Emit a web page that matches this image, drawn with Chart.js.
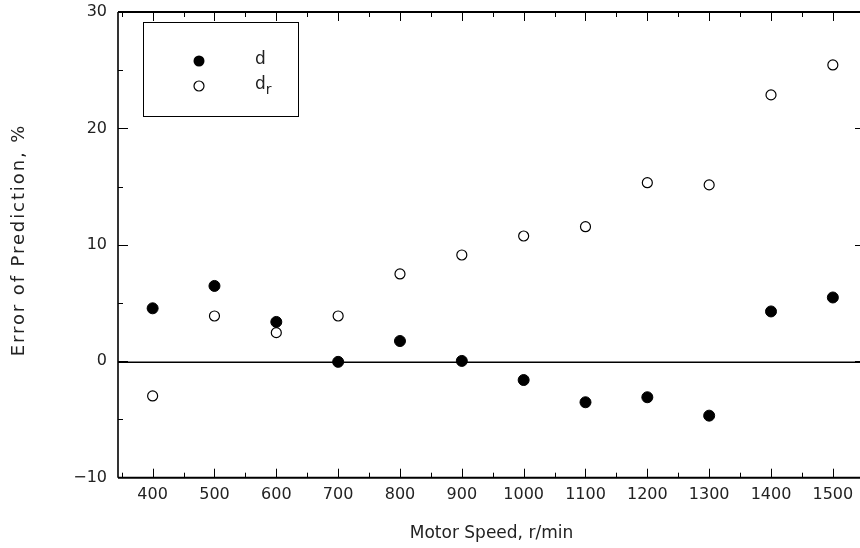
<!DOCTYPE html>
<html>
<head>
<meta charset="utf-8">
<script src="https://cdn.jsdelivr.net/npm/chart.js@4"></script>
<style>
html,body{margin:0;padding:0;background:#fff;overflow:hidden;width:860px;height:548px;}
#wrap{width:860px;height:548px;}
</style>
</head>
<body>
<div id="wrap"><canvas id="c" width="860" height="548"></canvas></div>
<script>
const speeds = [400, 500, 600, 700, 800, 900, 1000, 1100, 1200, 1300, 1400, 1500];
const dValues = [4.55, 6.47, 3.38, -0.05, 1.74, 0.03, -1.61, -3.52, -3.09, -4.67, 4.28, 5.48];
const drValues = [-2.98, 3.89, 2.46, 3.89, 7.5, 9.13, 10.76, 11.56, 15.34, 15.15, 22.88, 25.45];
const xTickValues = [400, 500, 600, 700, 800, 900, 1000, 1100, 1200, 1300, 1400, 1500];
const yTickValues = [-10, 0, 10, 20, 30];
const seriesNames = ['d', 'd', 'r'];
const xTitle = 'Motor Speed, r/min';
const yTitle = 'Error of Prediction, %';

const FONT = '"DejaVu Sans", sans-serif';
const TXT = '#222';
const PLOT_RIGHT = 865;

const framePlugin = {
  id: 'frame',
  afterLayout(chart) {
    const xs = chart.scales.x;
    xs.right = PLOT_RIGHT;
    xs.width = PLOT_RIGHT - xs.left;
    xs.configure();
    chart.chartArea.right = PLOT_RIGHT;
    chart.chartArea.width = PLOT_RIGHT - chart.chartArea.left;
  },
  afterDatasetsDraw(chart) {
    const ctx = chart.ctx, a = chart.chartArea;
    const xs = chart.scales.x, ys = chart.scales.y;
    ctx.save();
    ctx.strokeStyle = '#000';
    const y0 = ys.getPixelForValue(0);
    ctx.lineWidth = 1.4;
    ctx.beginPath(); ctx.moveTo(a.left, y0 + 1); ctx.lineTo(a.right, y0 + 1); ctx.stroke();
    ctx.lineWidth = 2;
    ctx.beginPath(); ctx.moveTo(a.left, a.top); ctx.lineTo(a.right, a.top); ctx.stroke();
    ctx.beginPath(); ctx.moveTo(a.left, a.bottom); ctx.lineTo(a.right, a.bottom); ctx.stroke();
    ctx.lineWidth = 1.6;
    ctx.beginPath(); ctx.moveTo(a.left, a.top); ctx.lineTo(a.left, a.bottom); ctx.stroke();
    ctx.lineWidth = 1;
    for (let v = 350; v <= 1550; v += 50) {
      const px = Math.round(xs.getPixelForValue(v)) + 0.5;
      if (px < a.left + 2 || px > a.right - 2) continue;
      const len = (v % 100 === 0) ? 9 : 5;
      ctx.beginPath(); ctx.moveTo(px, a.bottom); ctx.lineTo(px, a.bottom - len); ctx.stroke();
      ctx.beginPath(); ctx.moveTo(px, a.top); ctx.lineTo(px, a.top + len); ctx.stroke();
    }
    for (let v = -10; v <= 30; v += 5) {
      const py = Math.round(ys.getPixelForValue(v)) + 0.5;
      if (py < a.top + 2 || py > a.bottom - 2) continue;
      const len = (v % 10 === 0) ? 10 : 5;
      ctx.beginPath(); ctx.moveTo(a.left, py); ctx.lineTo(a.left + len, py); ctx.stroke();
      ctx.beginPath(); ctx.moveTo(a.right, py); ctx.lineTo(a.right - len, py); ctx.stroke();
    }
    // legend
    ctx.lineWidth = 1;
    ctx.strokeRect(143.5, 22.5, 155, 94);
    ctx.fillStyle = '#000';
    ctx.beginPath(); ctx.arc(199, 61, 5.5, 0, Math.PI * 2); ctx.fill();
    ctx.lineWidth = 1.2;
    ctx.beginPath(); ctx.arc(199, 86, 5, 0, Math.PI * 2); ctx.stroke();
    ctx.fillStyle = TXT;
    ctx.font = '17px ' + FONT;
    ctx.textBaseline = 'middle';
    ctx.textAlign = 'left';
    ctx.fillText(seriesNames[0], 255, 60);
    ctx.fillText(seriesNames[1], 255, 85);
    const w = ctx.measureText(seriesNames[1]).width;
    ctx.font = '14px ' + FONT;
    ctx.fillText(seriesNames[2], 255 + w, 90);
    // y axis title
    ctx.translate(19, 240);
    ctx.rotate(-Math.PI / 2);
    ctx.font = '18px ' + FONT;
    try { ctx.letterSpacing = '1.9px'; } catch (e) {}
    ctx.textAlign = 'center';
    ctx.textBaseline = 'middle';
    ctx.fillText(yTitle, 0, 0);
    ctx.restore();
  }
};

new Chart(document.getElementById('c'), {
  type: 'scatter',
  data: {
    datasets: [
      {
        label: 'd',
        data: speeds.map((s, i) => ({x: s, y: dValues[i]})),
        pointRadius: 5.5,
        pointBackgroundColor: '#000',
        pointBorderColor: '#000',
        pointBorderWidth: 1,
        showLine: false
      },
      {
        label: 'dr',
        data: speeds.map((s, i) => ({x: s, y: drValues[i]})),
        pointRadius: 5,
        pointBackgroundColor: '#fff',
        pointBorderColor: '#000',
        pointBorderWidth: 1.2,
        showLine: false
      }
    ]
  },
  options: {
    responsive: false,
    animation: false,
    devicePixelRatio: 1,
    layout: {padding: {top: 12, right: 0, left: 0, bottom: 0}},
    plugins: {legend: {display: false}, tooltip: {enabled: false}},
    scales: {
      x: {
        type: 'linear',
        min: 344, max: 1552,
        afterBuildTicks: (s) => { s.ticks = xTickValues.map(v => ({value: v})); },
        afterFit: (s) => { s.height = 70.3; s.paddingLeft = 0; s.paddingRight = 0; },
        grid: {display: false, drawTicks: false},
        border: {display: false},
        ticks: {color: TXT, font: {family: FONT, size: 16}, padding: 8, maxRotation: 0, autoSkip: false,
                callback: (v) => String(v)},
        title: {display: true, text: xTitle, color: TXT, font: {family: FONT, size: 17}, padding: {top: 9}}
      },
      y: {
        type: 'linear',
        min: -10, max: 30,
        afterBuildTicks: (s) => { s.ticks = yTickValues.map(v => ({value: v})); },
        afterFit: (s) => { s.width = 118; s.paddingTop = 0; s.paddingBottom = 0; },
        grid: {display: false, drawTicks: false},
        border: {display: false},
        ticks: {color: TXT, font: {family: FONT, size: 16}, padding: 11,
                callback: (v) => (v < 0 ? '\u2212' + Math.abs(v) : String(v))},
        title: {display: false, text: yTitle}
      }
    }
  },
  plugins: [framePlugin]
});
</script>
</body>
</html>
